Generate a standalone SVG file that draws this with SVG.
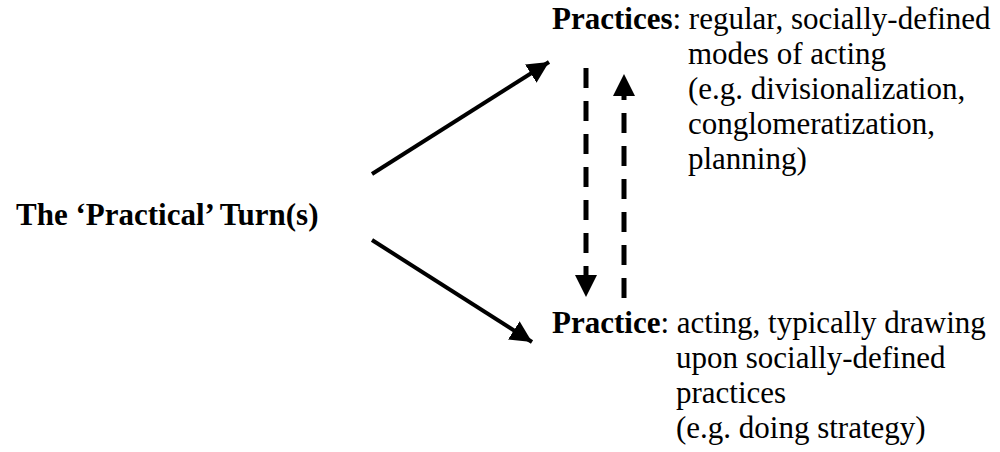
<svg xmlns="http://www.w3.org/2000/svg" width="1000" height="452" viewBox="0 0 1000 452">
<style>
text{font-family:'Liberation Serif','Times New Roman',serif;font-size:31px;fill:#000}
.b{font-weight:bold}
.solid{stroke:#000;stroke-width:4;fill:none}
.dash{stroke:#000;stroke-width:5;fill:none;stroke-dasharray:20 13}
</style>
<defs>
<marker id="ah" viewBox="0 0 10 10" refX="10" refY="5" markerWidth="5.4" markerHeight="5.4" markerUnits="strokeWidth" orient="auto"><path d="M0,0 L10,5 L0,10 z" fill="#000"/></marker>
<marker id="ah2" viewBox="0 0 10 10" refX="10" refY="5" markerWidth="4.4" markerHeight="4.4" markerUnits="strokeWidth" orient="auto"><path d="M0,0 L10,5 L0,10 z" fill="#000"/></marker>
</defs>
<rect width="1000" height="452" fill="#fff"/>
<g id="connectors">
<line class="solid" x1="372" y1="174" x2="549" y2="62" marker-end="url(#ah)"/>
<line class="solid" x1="372" y1="240" x2="532" y2="342" marker-end="url(#ah)"/>
<line class="dash" x1="586" y1="68" x2="586" y2="297" marker-end="url(#ah2)"/>
<line class="dash" x1="624" y1="298" x2="624" y2="74" marker-end="url(#ah2)"/>
</g>
<g id="turn">
<text class="b" x="16" y="225">The ‘Practical’ Turn(s)</text>
</g>
<g id="practices">
<text x="552" y="29"><tspan class="b">Practices</tspan>: regular, socially-defined</text>
<text x="688" y="64">modes of acting</text>
<text x="688" y="99">(e.g. divisionalization,</text>
<text x="688" y="134">conglomeratization,</text>
<text x="688" y="169">planning)</text>
</g>
<g id="practice">
<text x="552" y="333"><tspan class="b">Practice</tspan>: acting, typically drawing</text>
<text x="676" y="368">upon socially-defined</text>
<text x="676" y="403">practices</text>
<text x="676" y="438">(e.g. doing strategy)</text>
</g>
</svg>
